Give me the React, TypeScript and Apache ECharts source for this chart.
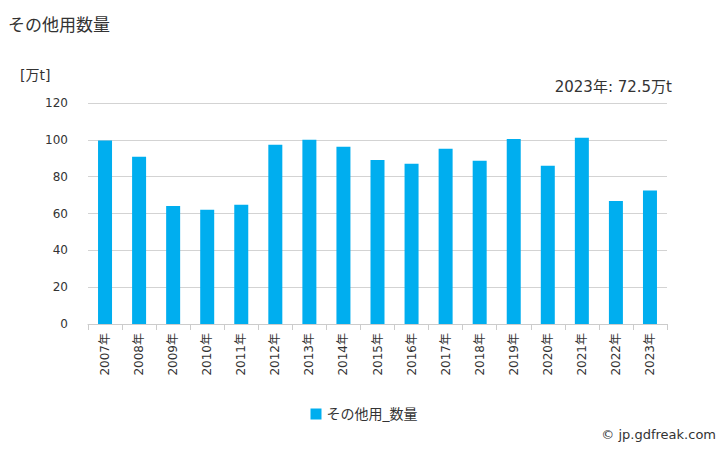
import React, { useEffect, useRef } from "react";
import * as echarts from "echarts";

const categories = ["2007年","2008年","2009年","2010年","2011年","2012年","2013年","2014年","2015年","2016年","2017年","2018年","2019年","2020年","2021年","2022年","2023年"];
const values = [99.6, 90.8, 64.1, 62.0, 64.7, 97.3, 100.0, 96.2, 89.1, 87.0, 95.1, 88.6, 100.5, 85.9, 101.1, 66.8, 72.5];
const seriesName = "その他用_数量";
const titleText = "その他用数量";
const unitText = "[万t]";
const latestText = "2023年: 72.5万t";
const creditText = "© jp.gdfreak.com";

const FONT = "'DejaVu Sans', 'Noto Sans CJK JP', sans-serif";

export default function App() {
  const ref = useRef<HTMLDivElement>(null);
  useEffect(() => {
    const chart = echarts.init(ref.current!, null, { renderer: "svg" });
    chart.setOption({
      animation: false,
      textStyle: { fontFamily: FONT },
      grid: { left: 88, right: 61, top: 103, bottom: 126 },
      title: {
        text: titleText,
        left: 3,
        top: 10,
        textStyle: { fontSize: 17, fontWeight: "normal", color: "#333", fontFamily: "'Noto Sans CJK JP', sans-serif" },
      },
      graphic: [
        { type: "text", left: 20, top: 68, style: { text: unitText, fontSize: 14, fill: "#333", fontFamily: FONT } },
        { type: "text", right: 56, top: 79, style: { text: latestText, fontSize: 15, fill: "#333", fontFamily: FONT } },
        { type: "text", right: 12, top: 428, style: { text: creditText, fontSize: 13, fill: "#333", fontFamily: FONT } },
      ],
      legend: {
        bottom: 24,
        left: "center",
        itemWidth: 11,
        itemHeight: 11,
        itemGap: 6,
        textStyle: { fontSize: 14, color: "#333", fontFamily: FONT },
        data: [{ name: seriesName, icon: "rect" }],
      },
      xAxis: {
        type: "category",
        data: categories,
        axisLine: { lineStyle: { color: "#cccccc" } },
        axisTick: { show: true, length: 6, lineStyle: { color: "#cccccc" } },
        axisLabel: { rotate: 90, fontSize: 12, color: "#333", margin: 9, fontFamily: FONT },
      },
      yAxis: {
        type: "value",
        min: 0,
        max: 120,
        interval: 20,
        axisLine: { show: false },
        axisTick: { show: false },
        axisLabel: { fontSize: 12, color: "#333", margin: 20, fontFamily: FONT },
        splitLine: { lineStyle: { color: "#d3d3d3" } },
      },
      series: [
        {
          name: seriesName,
          type: "bar",
          data: values,
          barWidth: 14,
          itemStyle: { color: "#00AEEF" },
        },
      ],
    });
    return () => chart.dispose();
  }, []);
  return <div ref={ref} style={{ width: 728, height: 450, position: "absolute", left: 0, top: 0 }} />;
}
